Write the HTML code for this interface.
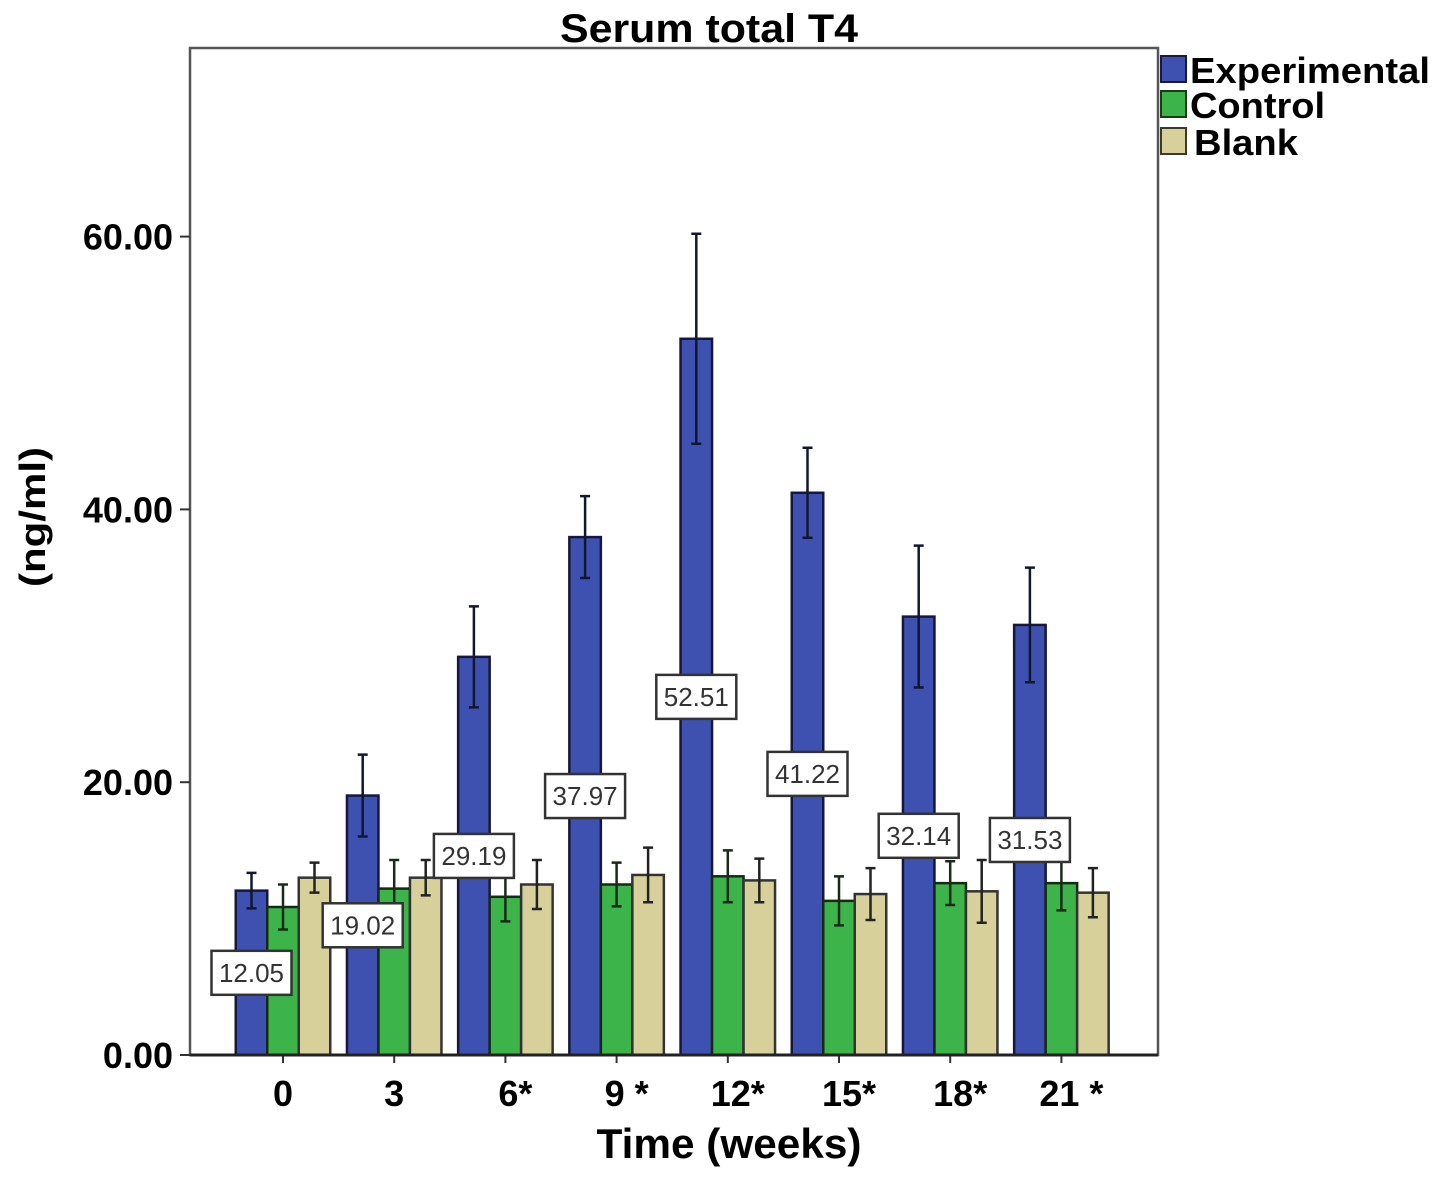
<!DOCTYPE html>
<html><head><meta charset="utf-8"><style>
html,body{margin:0;padding:0;background:#fff;}
svg text{font-family:"Liberation Sans",Arial,sans-serif;}
</style></head><body>
<svg id="chart" width="1441" height="1181" viewBox="0 0 1441 1181" xmlns="http://www.w3.org/2000/svg">
<text x="709" y="42" text-anchor="middle" font-size="40" font-weight="bold" textLength="298" lengthAdjust="spacingAndGlyphs">Serum total T4</text>
<rect x="190" y="48" width="968" height="1007" fill="none" stroke="#555" stroke-width="2.5"/>
<g id="bars"></g>
<g id="labels"></g>
<g id="axes"></g>
<text transform="translate(45,517) rotate(-90)" text-anchor="middle" font-size="36" font-weight="bold" textLength="140" lengthAdjust="spacingAndGlyphs">(ng/ml)</text>
<text x="729" y="1158" text-anchor="middle" font-size="42" font-weight="bold" textLength="265" lengthAdjust="spacingAndGlyphs">Time (weeks)</text>
<g>
<rect x="1161" y="56" width="25" height="26" fill="#3f51b0" stroke="#1a1a3a" stroke-width="2"/>
<text x="1190" y="83" font-size="36" font-weight="bold" textLength="240" lengthAdjust="spacingAndGlyphs">Experimental</text>
<rect x="1161" y="91" width="25" height="26" fill="#3cb44a" stroke="#1a3a1a" stroke-width="2"/>
<text x="1190" y="118" font-size="36" font-weight="bold" textLength="135" lengthAdjust="spacingAndGlyphs">Control</text>
<rect x="1161" y="128" width="25" height="26" fill="#d8d09a" stroke="#3a3a2a" stroke-width="2"/>
<text x="1194" y="155" font-size="36" font-weight="bold" textLength="104" lengthAdjust="spacingAndGlyphs">Blank</text>
</g>
</svg>
<script>
const categories=["0","3","6*","9 *","12*","15*","18*","21 *"];
const expValues=[12.05,19.02,29.19,37.97,52.51,41.22,32.14,31.53];
const expErr=[1.3,3.0,3.7,3.0,7.7,3.3,5.2,4.2];
const ctrlValues=[10.85,12.2,11.6,12.5,13.1,11.3,12.6,12.6];
const ctrlErr=[1.65,2.1,1.8,1.6,1.9,1.8,1.6,2.0];
const blankValues=[13.0,13.0,12.5,13.2,12.8,11.8,12.0,11.9];
const blankErr=[1.1,1.3,1.8,2.0,1.6,1.9,2.3,1.8];
const yTicks=[0,20,40,60];
const yTickLabels=["0.00","20.00","40.00","60.00"];

const NS="http://www.w3.org/2000/svg";
const y0=1055, pxPerUnit=13.64;
function yScale(v){return y0-v*pxPerUnit;}
function xGroup(i){return 283+i*111.2;}
const barW=31.5;
function mk(tag,attrs,parent){const e=document.createElementNS(NS,tag);for(const k in attrs)e.setAttribute(k,attrs[k]);parent.appendChild(e);return e;}
const gb=document.getElementById('bars'), gl=document.getElementById('labels'), ga=document.getElementById('axes');
const series=[
 {name:"experimental",vals:expValues,err:expErr,fill:"#3f51b0",stroke:"#15183a",ec:"#101830"},
 {name:"control",vals:ctrlValues,err:ctrlErr,fill:"#3cb44a",stroke:"#142a14",ec:"#1a2a1a"},
 {name:"blank",vals:blankValues,err:blankErr,fill:"#d8d09a",stroke:"#333",ec:"#222"}
];
categories.forEach((c,i)=>{
  series.forEach((s,j)=>{
    const x=xGroup(i)-1.5*barW+j*barW;
    const v=s.vals[i];
    const r=mk('rect',{x:x,y:yScale(v),width:barW,height:y0-yScale(v),fill:s.fill,stroke:s.stroke,'stroke-width':2.5},gb);
    
    
    const cx=x+barW/2, t=yScale(v+s.err[i]), b=yScale(v-s.err[i]);
    const e=mk('path',{d:`M${cx},${t}V${b}M${cx-5},${t}H${cx+5}M${cx-5},${b}H${cx+5}`,stroke:s.ec,'stroke-width':2.5,fill:'none'},gb);
    
    
  });
  const cx=xGroup(i)-barW, cy=yScale(expValues[i]/2);
  const lg=mk('g',{},gl);
  
  
  mk('rect',{x:cx-40,y:cy-22,width:80,height:44,fill:'#fff',stroke:'#333','stroke-width':2.5},lg);
  const tx=mk('text',{x:cx,y:cy+9,'text-anchor':'middle','font-size':26,fill:'#333'},lg);
  tx.textContent=expValues[i].toFixed(2);
  const tk=mk('line',{x1:xGroup(i),x2:xGroup(i),y1:y0,y2:y0+8,stroke:'#333','stroke-width':2},ga);
  
  
  const xl=mk('text',{x:xGroup(i)+(c.length>1&&c.includes('*')?10:0),y:1106,'text-anchor':'middle','font-size':36,'font-weight':'bold'},ga);
  
  
  xl.textContent=c;
});
const base=mk('line',{x1:190,x2:1158,y1:y0,y2:y0,stroke:'#222','stroke-width':3},ga);


yTicks.forEach((v,i)=>{
  const t=mk('line',{x1:180,x2:190,y1:yScale(v),y2:yScale(v),stroke:'#333','stroke-width':2},ga);
  
  
  const l=mk('text',{x:173,y:yScale(v)+13,'text-anchor':'end','font-size':36,'font-weight':'bold'},ga);
  
  
  l.textContent=yTickLabels[i];
});
</script>
</body></html>
